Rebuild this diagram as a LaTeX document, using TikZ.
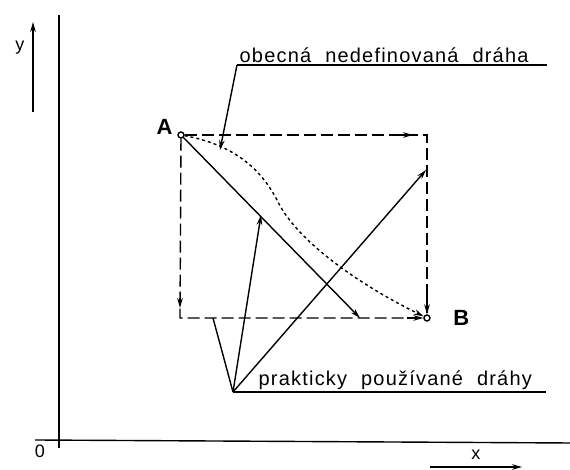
\documentclass[tikz,border=0pt]{standalone}
\usepackage{fontspec}
\setmainfont{Liberation Sans}
\newfontfamily\spacedfont[LetterSpace=6]{Liberation Sans}
\usetikzlibrary{arrows.meta, positioning, calc}

\begin{document}
\begin{tikzpicture}[x=0.5pt, y=-0.5pt, >={Stealth[length=5pt, width=2.8pt]}, line width=0.7pt,
  pnt/.style={draw, circle, inner sep=0pt, minimum size=3pt, fill=white},
  edge/.style={dash pattern=on 6pt off 2.5pt},
  lbl/.style={font=\spacedfont\fontsize{10}{12}\selectfont, execute at begin node={\spaceskip=7pt plus 1pt\relax}, inner sep=1pt, anchor=south west},
  ltr/.style={font=\fontsize{11}{13}\selectfont\bfseries, inner sep=1pt}]
\useasboundingbox (0,0) rectangle (570,470);
% axes
\coordinate (ytop) at (59,15);
\coordinate (ybot) at (59,448);
\coordinate (xl) at (35,440);
\coordinate (xr) at (570,443);
\draw (ytop) -- (ybot);
\draw (xl) -- (xr);
\node[font=\fontsize{9}{11}\selectfont] (zero) at (40,451) {0};
\coordinate (ya) at (33,112);
\coordinate (yb) at (33,22);
\draw[->] (ya) -- (yb);
\node[font=\fontsize{9}{11}\selectfont] (ylab) at (20,48) {y};
\coordinate (xa) at (430,467);
\coordinate (xb) at (522,467);
\draw[->] (xa) -- (xb);
\node[font=\fontsize{9}{11}\selectfont] (xlab) at (476,455) {x};
% start and end point
\node[pnt] (A) at (181,135) {};
\node[pnt] (B) at (427,318) {};
\node[ltr, left=1pt of A, yshift=4pt] (Alab) {A};
\node[ltr, right=10pt of B] (Blab) {B};
\coordinate (tr) at (427,135);
\coordinate (bl) at (180,318);
\coordinate (D) at (360,318);
% paths along the box
\draw[edge] (A) -- (bl) -- (B);
\draw[edge] (A) -- (tr) -- (B);
\draw[->] ($(bl)+(0,-20)$) -- ($(bl)+(0,-10)$);
\draw[->] ($(tr)+(-30,0)$) -- ($(tr)+(-14,0)$);
\draw[->] ($(B)+(-20,0)$) -- (B.west);
\draw[->] ($(B)+(0,-22)$) -- (B.north);
% straight path
\draw[->] (A) -- (D);
% general path
\draw[dash pattern=on 1.5pt off 1.5pt, ->] (A) .. controls (235,145) and (262,170) .. (278,202)
  .. controls (298,242) and (360,285) .. (B);
% labels
\node[lbl] (gen) at (237,65) {obecná nedefinovaná dráha};
\coordinate (genL) at (237,65);
\coordinate (genR) at (547,65);
\draw (genL) -- (genR);
\coordinate (genT) at (220,150);
\draw[->] (genL) -- (genT);
\node[lbl] (prak) at (256,392) {prakticky používané dráhy};
\coordinate (prakL) at (233,392);
\coordinate (prakR) at (546,392);
\draw (prakL) -- (prakR);
\coordinate (p1) at (213,318);
\coordinate (p2) at (261,215);
\coordinate (p3) at (426,170);
\draw (prakL) -- (p1);
\draw[->] (prakL) -- (p2);
\draw[->] (prakL) -- (p3);
\end{tikzpicture}
\end{document}
